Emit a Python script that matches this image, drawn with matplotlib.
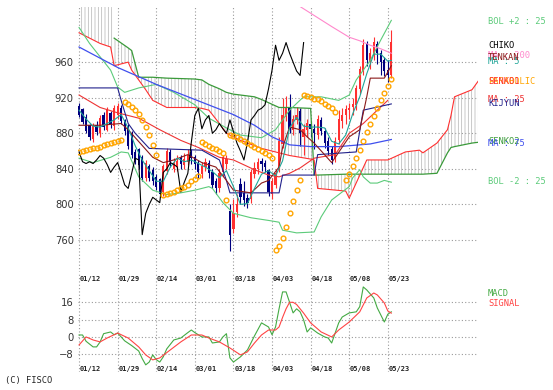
import numpy as np
import matplotlib
matplotlib.use("Agg")
import matplotlib.pyplot as plt

# ---------------- data (bar index 0 = 01/12) ----------------
opens = [910, 906, 898, 888, 874, 889, 880, 900, 884, 902,
         888, 900, 908, 894, 886, 878, 858, 862, 852, 830,
         842, 838, 830, 828, 814, 838, 858, 840, 842, 852,
         844, 848, 858, 852, 846, 834, 842, 846, 836, 826,
         818, 836, 846, 792, 772, 792, 822, 812, 806, 806,
         834, 840, 848, 846, 838, 812, 822, 840, 868, 898,
         908, 884, 895, 904, 876, 884, 890, 884, 878, 894,
         882, 870, 862, 852, 872, 894, 900, 906, 910, 912,
         930, 950, 980, 960, 968, 980, 970, 962, 950, 946]
highs = [914, 908, 902, 890, 892, 894, 900, 904, 910, 905,
         912, 914, 912, 896, 890, 882, 862, 864, 856, 850,
         846, 842, 834, 830, 846, 864, 862, 852, 856, 856,
         858, 862, 862, 856, 850, 848, 852, 850, 840, 830,
         840, 856, 856, 800, 806, 812, 830, 826, 812, 840,
         848, 852, 852, 850, 840, 830, 840, 876, 920, 922,
         924, 900, 910, 908, 890, 896, 894, 890, 900, 898,
         886, 876, 866, 876, 906, 908, 912, 914, 920, 934,
         956, 986, 984, 976, 988, 984, 974, 966, 962, 996]
lows = [898, 890, 880, 872, 870, 878, 876, 884, 882, 886,
        884, 896, 890, 878, 862, 852, 846, 840, 826, 826,
        826, 822, 816, 808, 810, 834, 842, 836, 838, 840,
        840, 844, 846, 840, 830, 830, 838, 830, 818, 812,
        814, 832, 840, 748, 768, 786, 800, 798, 796, 802,
        830, 834, 838, 836, 810, 806, 818, 836, 864, 894,
        880, 878, 890, 866, 856, 876, 876, 862, 874, 878,
        864, 856, 846, 848, 868, 886, 890, 896, 900, 906,
        924, 946, 956, 952, 962, 958, 946, 944, 938, 942]
closes = [901, 893, 883, 876, 889, 881, 896, 887, 905, 890,
          908, 910, 894, 882, 866, 856, 850, 844, 830, 846,
          830, 826, 820, 812, 842, 859, 848, 846, 848, 846,
          850, 855, 852, 845, 836, 842, 847, 835, 822, 818,
          835, 852, 850, 766, 790, 800, 808, 805, 802, 836,
          840, 847, 845, 842, 814, 825, 835, 870, 900, 908,
          885, 895, 900, 880, 884, 891, 885, 880, 895, 882,
          869, 860, 850, 870, 895, 900, 906, 908, 912, 930,
          951, 979, 962, 970, 982, 970, 960, 950, 945, 982]
chiko_shift = 25

date_labels = ["01/12", "01/29", "02/14", "03/01", "03/18",
               "04/03", "04/18", "05/08", "05/23"]
date_pos = [0, 11, 22, 33, 44, 55, 66, 77, 88]

ma5_x = [0, 2, 4, 6, 8, 10, 12, 14, 16, 18, 20, 22, 24, 26, 28, 30, 32, 34,
         36, 38, 40, 42, 44, 46, 48, 50, 52, 54, 56, 58, 60, 62, 64, 66, 68,
         70, 72, 74, 76, 78, 80, 82, 84, 86, 88, 89]
ma5 = [906, 896, 888, 887, 891, 895, 901, 886, 866, 850, 838, 826, 826, 842,
       852, 848, 850, 846, 842, 837, 830, 838, 820, 800, 801, 818, 834, 838,
       832, 849, 886, 898, 888, 887, 887, 886, 871, 868, 878, 902, 921, 947,
       969, 969, 961, 962]

ma25_x = [0, 6, 11, 17, 23, 29, 34, 40, 44, 50, 54, 57, 60, 63, 67, 73, 77, 81, 85, 88]
ma25 = [923, 909, 903, 897, 884, 872, 864, 853, 850, 839, 833, 831, 835,
        841, 852, 856, 880, 891, 906, 917]

ma75_x = [0, 11, 22, 33, 44, 50, 55, 60, 66, 74, 83, 89]
ma75 = [977, 954, 935, 918, 901, 889, 876, 867, 865, 865, 868, 873]

ma200_x = [60, 64, 68, 72, 77, 80, 83, 86, 89]
ma200 = [1030, 1020, 1010, 1000, 988, 984, 979, 975, 970]

bolu_x = [0, 3, 6, 9, 11, 13, 17, 22, 27, 33, 37, 42, 46, 52, 56, 60, 64,
          69, 74, 77, 79, 83, 86, 89]
bol_up = [999, 981, 966, 951, 932, 926, 931, 935, 926, 912, 897, 886, 878,
          875, 884, 906, 921, 921, 917, 923, 940, 962, 985, 1007]

bold_x = [0, 4, 9, 12, 14, 17, 21, 25, 29, 33, 37, 38, 41, 44, 49, 54, 57,
          58, 62, 67, 69, 72, 75, 77, 78, 80, 81, 83, 85, 87, 89]
bol_dn = [852, 847, 853, 859, 858, 831, 816, 811, 813, 816, 820, 818, 802,
          790, 785, 782, 780, 771, 768, 769, 786, 805, 814, 820, 830, 839,
          831, 824, 824, 827, 825]

tenkan_x = [0, 6, 12, 14, 21, 24, 27, 31, 35, 39, 42, 44, 49, 52, 54, 57, 58,
            60, 63, 65, 67, 72, 77, 80, 82, 83, 87, 89]
tenkan = [889, 889, 891, 884, 853, 847, 850, 856, 847, 842, 827, 816, 813,
          824, 827, 842, 864, 887, 884, 876, 869, 847, 876, 884, 921, 942,
          942, 956]

kijun_x = [0, 11, 12, 14, 16, 20, 35, 40, 42, 43, 57, 58, 67, 68, 79, 81, 89]
kijun = [931, 931, 917, 891, 880, 863, 861, 850, 827, 813, 813, 833, 833,
         856, 859, 906, 913]

# leading spans share one index list (senkou2 is above the chart before bar 10)
senko_x = [0, 6, 9, 10, 14, 15, 17, 19, 21, 25, 33, 35, 37, 40, 42, 44, 46,
           50, 52, 57, 60, 66, 67, 68, 76, 77, 82, 88, 93, 97, 98, 102, 105,
           106, 107, 112, 114]
senko1 = [993, 981, 977, 956, 960, 951, 940, 929, 917, 909, 909, 908, 906,
          891, 880, 876, 872, 866, 863, 858, 855, 851, 850, 818, 815, 807,
          850, 850, 859, 861, 858, 869, 884, 900, 921, 929, 940]
senko2 = [None, None, None, 987, 976, 973, 943, 943, 943, 942, 941, 940, 935,
          930, 926, 924, 923, 921, 918, 909, 909, 908, 833, 833, 834, 834,
          834, 834, 834, 834, 834, 835, 858, 864, 865, 869, 870]

sar_x = list(range(0, 13)) + list(range(13, 23)) + list(range(24, 35)) + \
    list(range(35, 42)) + [42] + list(range(43, 56)) + list(range(56, 64)) + \
    list(range(64, 74)) + list(range(76, 90))
sar = [859, 860, 861, 862, 863, 864, 865, 867, 868, 869, 870, 871, 872,
       915, 913, 910, 906, 902, 895, 887, 878, 867, 856,
       811, 812, 813, 814, 816, 818, 820, 822, 826, 829, 832,
       870, 868, 866, 864, 862, 860, 858,
       805,
       878, 877, 876, 874, 871, 869, 867, 865, 862, 860, 858, 856, 852,
       749, 753, 762, 775, 790, 804, 816, 827,
       923, 922, 921, 919, 918, 916, 913, 911, 908, 904,
       827, 834, 843, 852, 861, 871, 881, 890, 899, 908, 917, 925, 933, 941]

macd_x = [0, 1, 2, 4, 5, 6, 7, 9, 10, 11, 13, 15, 17, 18, 19, 20, 21, 22, 23,
          24, 25, 27, 29, 31, 32, 33, 35, 37, 38, 40, 41, 42, 43, 44, 46, 48,
          50, 52, 54, 55, 56, 57, 58, 59, 60, 61, 62, 63, 64, 65, 66, 68, 70,
          71, 72, 74, 75, 77, 79, 80, 81, 82, 84, 85, 87, 88, 89]
macd = [0.9, 0.9, -2.0, -4.6, -4.6, -2.3, 1.5, 2.3, 1.0, 1.8, -1.8, -4.0,
        -6.5, -10.0, -12.9, -11.6, -8.3, -10.5, -11.6, -9.2, -5.5, -1.4,
        -0.5, 2.0, 3.2, 2.0, 0.0, 0.0, -2.8, -2.3, 0.0, 1.5, -9.7, -11.6,
        -9.2, -6.0, 0.5, 6.5, 4.6, 1.0, 4.6, 13.0, 20.8, 20.8, 16.0, 11.1,
        13.0, 11.6, 7.9, 2.3, 4.2, 1.8, 0.0, -0.5, -2.8, 6.5, 9.2, 11.1,
        11.6, 14.0, 23.1, 21.7, 18.0, 13.4, 6.9, 10.5, 11.6]

signal_x = [0, 2, 4, 6, 8, 11, 14, 17, 19, 21, 23, 26, 29, 32, 35, 37, 40,
            43, 46, 48, 50, 52, 54, 56, 57, 58, 59, 60, 61, 62, 64, 66, 69,
            72, 74, 77, 80, 82, 84, 85, 87, 88, 89]
signal = [-3.7, 0.0, -1.4, -2.3, -0.5, 1.8, -0.5, -4.6, -8.3, -10.6, -9.7,
          -6.0, -2.3, 0.9, 0.9, -0.5, -2.3, -5.1, -8.3, -6.9, -2.8, 0.9, 3.2,
          3.2, 4.6, 9.0, 13.0, 16.0, 16.0, 15.0, 11.0, 6.5, 2.3, 0.0, 3.2,
          6.9, 11.6, 18.0, 20.3, 19.4, 15.7, 12.0, 11.0]

# ---------------- colours ----------------
C_UP, C_DN = "#ff3030", "#00007f"
C_BOL = "#5ccb7a"
C_S1, C_S2 = "#ff3030", "#3a9a3a"
C_MA5, C_MA25, C_MA75, C_MA200 = "#1fa598", "#ee3333", "#3f4fee", "#ff88cc"
C_TEN, C_KIJ = "#8b1a1a", "#22228c"
C_SAR = "#ffa500"
GRID = "#9a9a9a"

plt.rcParams["hatch.linewidth"] = 0.5
W, H = 553, 390
fig = plt.figure(figsize=(W / 100, H / 100), dpi=100)
fig.patch.set_facecolor("white")
ax = fig.add_axes([78 / W, 1 - 272 / H, 400 / W, 265 / H])
axm = fig.add_axes([78 / W, 1 - 372 / H, 400 / W, 100 / H])

XL = (-0.3, 113.7)
ax.set_xlim(*XL)
ax.set_ylim(724, 1022)
axm.set_xlim(*XL)
axm.set_ylim(-16.2, 30)

for a in (ax, axm):
    for s in a.spines.values():
        s.set_visible(False)
    a.set_xticks([])
    a.tick_params(axis="y", length=0, pad=3, labelsize=7.2, labelcolor="#333333")
    for p in date_pos:
        a.axvline(p, color=GRID, lw=0.8, ls=(0, (1, 2)), zorder=0)

ax.set_yticks([760, 800, 840, 880, 920, 960])
for v in [760, 800, 840, 880, 920, 960]:
    ax.axhline(v, color=GRID, lw=0.8, ls=(0, (1, 2)), zorder=0)
axm.set_yticks([-8, 0, 8, 16])
for v in [-8, 0, 8, 16]:
    axm.axhline(v, color=GRID, lw=0.8, ls=(0, (1, 2)), zorder=0)

# ---------------- ichimoku cloud ----------------
sx = np.array(senko_x, dtype=float)
s1 = np.array(senko1, dtype=float)
s2 = np.array([np.nan if v is None else v for v in senko2], dtype=float)
s2_fill = np.where(np.isnan(s2), 1040, s2)
ax.fill_between(sx, s1, s2_fill, facecolor="none", edgecolor="#b4b4b4",
                hatch="|||||", linewidth=0, zorder=1)
ax.plot(sx, s2, color=C_S2, lw=0.9, zorder=3)
ax.plot(sx, s1, color=C_S1, lw=0.8, zorder=3)

# ---------------- candles ----------------
idx = np.arange(len(closes))
o = np.array(opens)
c = np.array(closes)
cols = [C_UP if cc >= oo else C_DN for oo, cc in zip(o, c)]
ax.vlines(idx, lows, highs, colors=cols, lw=0.8, zorder=2)
ax.bar(idx, np.abs(c - o) + 0.8, bottom=np.minimum(o, c), width=0.65,
       color=cols, linewidth=0, zorder=2)

# ---------------- lines ----------------
ax.plot(bolu_x, bol_up, color=C_BOL, lw=0.8, zorder=3)
ax.plot(bold_x, bol_dn, color=C_BOL, lw=0.8, zorder=3)
ax.plot(ma75_x, ma75, color=C_MA75, lw=0.9, zorder=3)
ax.plot(ma200_x, ma200, color=C_MA200, lw=0.8, zorder=3)
ax.plot(ma25_x, ma25, color=C_MA25, lw=0.8, zorder=3)
ax.plot(kijun_x, kijun, color=C_KIJ, lw=0.8, zorder=3)
ax.plot(tenkan_x, tenkan, color=C_TEN, lw=0.8, zorder=3)
ax.plot(ma5_x, ma5, color=C_MA5, lw=0.8, zorder=3)
ax.plot(idx[chiko_shift:] - chiko_shift, c[chiko_shift:], color="black",
        lw=0.8, zorder=3)
ax.plot(sar_x, sar, ls="none", marker="o", ms=3.4, mfc="none", mec=C_SAR,
        mew=1.0, zorder=4)

axm.plot(macd_x, macd, color="#44aa44", lw=0.8)
axm.plot(signal_x, signal, color="#ff4444", lw=0.8)

# ---------------- date labels ----------------
mono = "DejaVu Sans Mono"
for p, lab in zip(date_pos, date_labels):
    for yy in (0.93, 0.03):
        axm.text(p + 0.2, yy, lab, transform=axm.get_xaxis_transform(),
                 ha="left", va="center", fontsize=5, family=mono,
                 fontweight="bold", color="#222222")

# ---------------- right-hand legend (overlapping as in the source) ----------------
legend = [
    ("BOL +2 : 25", 22, C_BOL), ("CHIKO", 45, "black"),
    ("MA : 200", 56, C_MA200), ("MA : 5", 61, C_MA5), ("TENKAN", 58, C_TEN),
    ("PARABOLIC", 82, C_SAR), ("SENKO1", 82, C_S1),
    ("MA : 25", 99, C_MA25), ("KIJYUN", 104, C_KIJ),
    ("SENKO2", 141, C_S2), ("MA : 75", 144, C_MA75),
    ("BOL -2 : 25", 181, C_BOL),
    ("MACD", 293, "#44aa44"), ("SIGNAL", 303, "#ff4444"),
]
for txt, ypx, col in legend:
    fig.text(488 / W, 1 - ypx / H, txt, ha="left", va="center",
             fontsize=6.3, family=mono, color=col)
fig.text(5 / W, 1 - 381 / H, "(C) FISCO", ha="left", va="center",
         fontsize=6.3, family=mono, color="#222222")

fig.savefig("out.png", dpi=100)
